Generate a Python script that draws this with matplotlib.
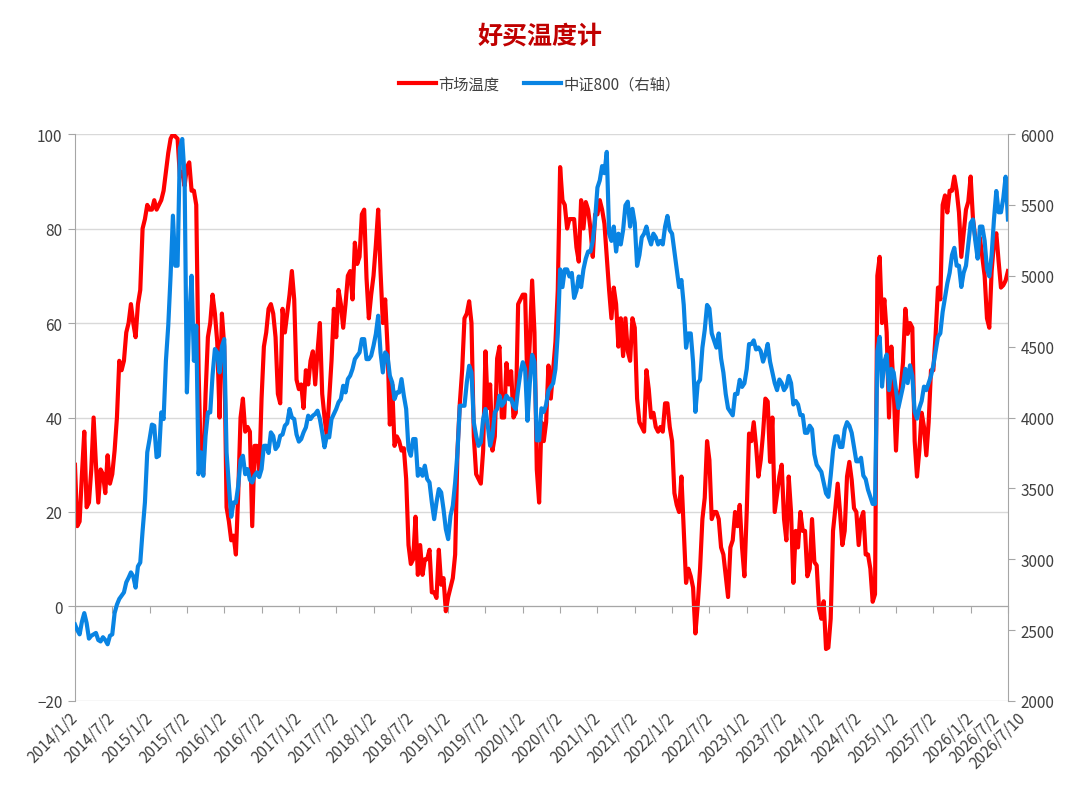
import numpy as np
import matplotlib
matplotlib.use("Agg")
from matplotlib import pyplot as plt

plt.rcParams['font.family'] = ['Noto Sans CJK SC', 'DejaVu Sans']

# market temperature, 16 samples per half year (one row = half a year)
temp = [
    30, 17, 18, 28, 37, 21, 22, 29, 40, 30, 22, 29, 28, 24, 32, 26,
    28, 33, 40, 52, 50, 52, 58, 60, 64, 60, 57, 64, 67, 80, 82, 85,
    84, 84, 86, 84, 85, 86, 88, 92, 96, 99, 100, 99.5, 99, 91, 92, 89,
    93, 94, 88, 88, 85, 50, 30, 28, 45, 57, 60, 66, 62, 56, 40, 62,
    55, 21, 18, 14, 15, 11, 24, 40, 44, 37, 38, 37, 17, 34, 34, 28,
    44, 55, 58, 63, 64, 62, 57, 45, 43, 63, 58, 62, 66, 71, 65, 48,
    46, 47, 42, 50, 47, 52, 54, 47, 54, 60, 45, 40, 36, 44, 52, 63,
    57, 67, 64, 59, 64, 70, 71, 65, 77, 72.5, 74, 83, 84, 69.5, 61, 66,
    70, 76.5, 84, 71, 60, 65, 55, 38.5, 47, 34, 36, 35, 33, 33.5, 27, 13,
    9, 10, 19, 6.7, 13, 6.7, 10, 10, 12, 3, 3, 1.8, 12, 4.6, 6, -1,
    2, 4, 6, 11, 33, 43, 50, 61, 62, 64.6, 60, 36, 28, 27, 26, 33,
    54, 42, 47, 33, 36, 52.5, 55, 40, 40, 51.5, 47, 49.8, 40, 41, 64, 65,
    66, 66, 46, 56, 69, 58, 29, 22, 39, 35, 39, 51, 44, 50, 56, 67,
    93, 86, 85, 80, 82, 82, 82, 76, 73, 86, 80, 85.6, 84, 80, 74, 83,
    83, 86, 84, 81, 74, 67, 61, 67.5, 64, 55, 61, 53, 61, 54, 52, 61,
    59, 44, 39, 38, 37, 50, 46, 40, 41, 38, 37, 38, 37, 43, 43, 38,
    35, 24, 21.5, 20, 27.5, 16, 5, 8, 6.4, 4, -5.7, 0.4, 8, 18.5, 23, 35,
    31, 18.5, 20, 20, 18.5, 12.5, 11, 6.4, 2, 12.5, 14, 20, 17, 21.5, 12.5, 6.4,
    20, 36.6, 35, 39, 34, 27.5, 31, 36.6, 44, 43.4, 30.6, 40, 20, 23.8, 27.5, 30,
    18.5, 14, 27.5, 20, 5, 16, 12.5, 20, 16, 16, 6.4, 8, 18.5, 9.4, 8.7, -0.4,
    -2.6, 1.1, -9, -8.7, -2.6, 16, 20.8, 26, 20, 13, 16, 27.5, 30.6, 26.8, 20.8, 20,
    13, 18.5, 20, 11, 11, 8, 1, 2.6, 70, 74, 60, 65, 58, 40, 55, 46,
    33, 44, 46, 51.7, 63, 57.7, 60, 59, 35, 27.5, 33, 41, 38, 32, 39, 50,
    50, 57.7, 67.5, 65, 85, 87, 83.4, 88, 88, 91, 88, 83.4, 74, 79, 84, 85.7,
    91, 82, 78, 76, 78, 74, 70, 61, 59, 71, 77, 79, 73, 67.5, 68, 69,
    71]

# CSI 800 index, same sampling
csi800 = [
    2540, 2500, 2470, 2560, 2620, 2550, 2440, 2460, 2470, 2480, 2430, 2420, 2450, 2430, 2400, 2460,
    2470, 2620, 2680, 2720, 2743, 2766, 2837, 2870, 2907, 2880, 2800, 2950, 2977, 3200, 3401, 3754,
    3848, 3950, 3942, 3720, 3730, 4036, 3989, 4400, 4648, 5000, 5424, 5071, 5071, 5900, 5965, 5700,
    4177, 4700, 5000, 4400, 4648, 3600, 3754, 3589, 3871, 4036, 4036, 4300, 4483, 4459, 4318, 4500,
    4553, 3754, 3519, 3300, 3401, 3400, 3519, 3700, 3730, 3600, 3636, 3560, 3542, 3590, 3613, 3580,
    3636, 3800, 3801, 3750, 3895, 3870, 3777, 3800, 3871, 3880, 3942, 3960, 4060, 4000, 3989, 3880,
    3830, 3848, 3895, 3930, 4013, 3989, 4013, 4025, 4048, 3990, 3895, 3790, 3871, 3860, 3989, 4025,
    4060, 4107, 4130, 4224, 4177, 4271, 4295, 4342, 4412, 4436, 4459, 4553, 4553, 4412, 4412, 4436,
    4506, 4589, 4718, 4459, 4318, 4459, 4436, 4295, 4248, 4130, 4177, 4177, 4271, 4154, 4060, 3777,
    3730, 3848, 3848, 3589, 3636, 3589, 3660, 3566, 3542, 3401, 3283, 3401, 3495, 3472, 3354, 3213,
    3142, 3307, 3378, 3542, 3754, 4083, 4083, 4083, 4248, 4365, 4318, 3965, 3871, 3800, 3824, 3989,
    4060, 3942, 3801, 3871, 4036, 4060, 4154, 4083, 4107, 4154, 4130, 4130, 4083, 4060, 4201, 4318,
    4390, 4342, 3977, 4241, 4442, 4392, 3839, 3839, 4065, 4040, 4090, 4191, 4216, 4241, 4342, 4593,
    5045, 4920, 5045, 5045, 4995, 5020, 4844, 4894, 4995, 4920, 5045, 5121, 5171, 5171, 5246, 5397,
    5623, 5673, 5774, 5724, 5874, 5297, 5246, 5347, 5171, 5297, 5221, 5322, 5497, 5523, 5347, 5472,
    5372, 5070, 5146, 5271, 5297, 5347, 5271, 5221, 5297, 5271, 5221, 5246, 5221, 5347, 5422, 5322,
    5297, 5171, 5045, 4920, 4970, 4794, 4492, 4593, 4593, 4392, 4040, 4241, 4266, 4493, 4618, 4794,
    4769, 4593, 4543, 4493, 4593, 4417, 4317, 4166, 4065, 4040, 4015, 4166, 4166, 4266, 4216, 4241,
    4342, 4518, 4518, 4544, 4480, 4494, 4469, 4394, 4444, 4519, 4394, 4318, 4243, 4193, 4268, 4243,
    4193, 4218, 4293, 4243, 4092, 4117, 4092, 4017, 4017, 3892, 3892, 3942, 3917, 3741, 3666, 3641,
    3616, 3540, 3465, 3440, 3590, 3766, 3867, 3867, 3792, 3792, 3917, 3967, 3942, 3892, 3792, 3691,
    3691, 3716, 3590, 3565, 3490, 3440, 3390, 3390, 4469, 4569, 4218, 4394, 4444, 4193, 4343, 4318,
    4193, 4067, 4143, 4218, 4343, 4243, 4368, 4293, 4042, 3992, 4067, 4117, 4218, 4193, 4243, 4293,
    4368, 4469, 4569, 4594, 4745, 4846, 4946, 5021, 5147, 5197, 5071, 5071, 4921, 5021, 5071, 5222,
    5372, 5397, 5247, 5121, 5347, 5347, 5247, 5046, 4996, 5147, 5397, 5598, 5448, 5448, 5548, 5699,
    5397]

tick_labels = ['2014/1/2', '2014/7/2', '2015/1/2', '2015/7/2', '2016/1/2', '2016/7/2',
               '2017/1/2', '2017/7/2', '2018/1/2', '2018/7/2', '2019/1/2', '2019/7/2',
               '2020/1/2', '2020/7/2', '2021/1/2', '2021/7/2', '2022/1/2', '2022/7/2',
               '2023/1/2', '2023/7/2', '2024/1/2', '2024/7/2', '2025/1/2', '2025/7/2',
               '2026/1/2', '2026/7/2']
last_label = '2026/7/10'

RED = '#FF0000'
BLUE = '#0984E3'
GRAY = '#A6A6A6'
TXT = '#404040'

x = np.arange(len(temp))
tick_pos = np.arange(0, len(temp), 16)

fig = plt.figure(figsize=(10.8, 8.12), dpi=100)
ax = fig.add_axes([0.0694, 0.1355, 0.8639, 0.6982])
ax2 = ax.twinx()

ax.plot(x, temp, color=RED, lw=3, label='市场温度')
ax2.plot(x, csi800, color=BLUE, lw=3, label='中证800（右轴）')

ax.set_xlim(0, len(temp) - 1)
ax.set_ylim(-20, 100)
ax.set_yticks(range(-20, 101, 20))
ax2.set_ylim(2000, 6000)
ax2.set_yticks(range(2000, 6001, 500))

ax.yaxis.grid(True, color='#D9D9D9', lw=1)
ax.set_axisbelow(True)

for a in (ax, ax2):
    a.spines['top'].set_visible(False)
    for s in a.spines.values():
        s.set_color(GRAY)
ax2.spines['bottom'].set_visible(False)
ax2.spines['left'].set_visible(False)
ax.spines['right'].set_visible(False)
ax.spines['bottom'].set_position(('data', 0))

ax.set_xticks(tick_pos)
ax.tick_params(axis='x', direction='out', length=5, color=GRAY, labelbottom=False)
ax.tick_params(axis='y', direction='out', length=5, color=GRAY, labelcolor=TXT, labelsize=11, pad=4)
ax2.tick_params(axis='y', direction='out', length=5, color=GRAY, labelcolor=TXT, labelsize=11, pad=4)

# rotated date labels below the plot area
for p, lab in zip(tick_pos, tick_labels):
    dx = -8 if lab == '2026/7/2' else 0
    ax.annotate(lab, xy=(p, 0), xycoords=('data', 'axes fraction'),
                xytext=(dx, -10), textcoords='offset points', rotation=45,
                ha='right', va='center', rotation_mode='anchor',
                fontsize=11, color=TXT, annotation_clip=False)
ax.annotate(last_label, xy=(x[-1], 0), xycoords=('data', 'axes fraction'),
            xytext=(11, -10), textcoords='offset points', rotation=45,
            ha='right', va='center', rotation_mode='anchor',
            fontsize=11, color=TXT, annotation_clip=False)

fig.text(0.5, 0.955, '好买温度计', ha='center', va='center', fontsize=18,
         fontweight='bold', color='#C00000')

h1, l1 = ax.get_legend_handles_labels()
h2, l2 = ax2.get_legend_handles_labels()
fig.legend(h1 + h2, l1 + l2, loc='center', bbox_to_anchor=(0.5, 0.895), ncol=2,
           frameon=False, fontsize=11, handlelength=2.4, columnspacing=1.6,
           handletextpad=0.2, labelcolor=TXT)

fig.savefig('out.png', dpi=100)
